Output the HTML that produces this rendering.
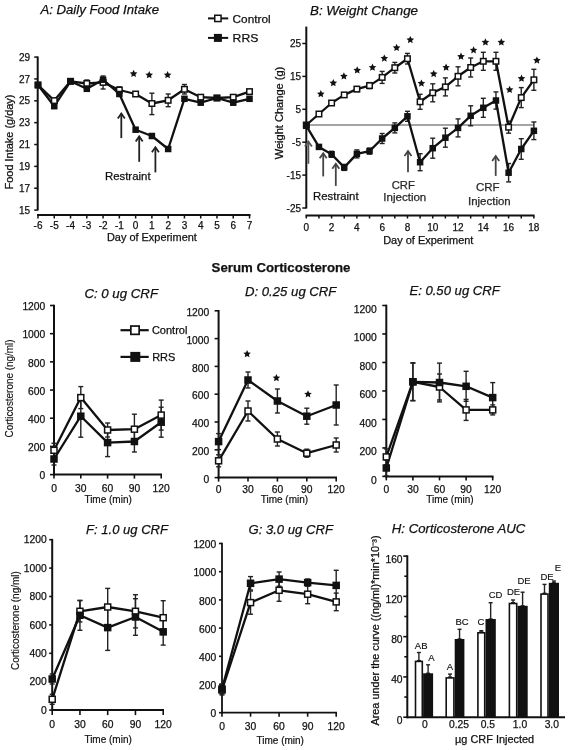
<!DOCTYPE html>
<html><head><meta charset="utf-8"><style>
html,body{margin:0;padding:0;background:#fff;}
svg{display:block;font-family:"Liberation Sans",sans-serif;filter:blur(0.35px);}
text{stroke:#111;stroke-width:0.25px;}
</style></head><body>
<svg width="569" height="750" viewBox="0 0 569 750">
<rect width="569" height="750" fill="#fff"/>
<text x="40.4" y="14.4" font-size="13" font-style="italic" textLength="118.6" lengthAdjust="spacingAndGlyphs" fill="#111">A: Daily Food Intake</text>
<line x1="208" y1="18.4" x2="228.2" y2="18.4" stroke="#111" stroke-width="2"/>
<rect x="214.75" y="15.25" width="6.3" height="6.3" fill="#fff" stroke="#111" stroke-width="1.5"/>
<text x="232.6" y="22.5" font-size="10.8" textLength="38" lengthAdjust="spacingAndGlyphs" fill="#111">Control</text>
<line x1="208" y1="37.9" x2="228.2" y2="37.9" stroke="#111" stroke-width="2"/>
<rect x="213.9" y="33.9" width="8" height="8" fill="#111"/>
<text x="232.6" y="41.5" font-size="10.8" textLength="25.7" lengthAdjust="spacingAndGlyphs" fill="#111">RRS</text>
<line x1="37.7" y1="56.5" x2="37.7" y2="210.5" stroke="#111" stroke-width="2"/>
<line x1="34.2" y1="210.1" x2="37.7" y2="210.1" stroke="#111" stroke-width="1.5"/>
<text x="30" y="213.7" font-size="10" text-anchor="end" fill="#111">15</text>
<line x1="34.2" y1="188.24" x2="37.7" y2="188.24" stroke="#111" stroke-width="1.5"/>
<text x="30" y="191.84" font-size="10" text-anchor="end" fill="#111">17</text>
<line x1="34.2" y1="166.38" x2="37.7" y2="166.38" stroke="#111" stroke-width="1.5"/>
<text x="30" y="169.98" font-size="10" text-anchor="end" fill="#111">19</text>
<line x1="34.2" y1="144.52" x2="37.7" y2="144.52" stroke="#111" stroke-width="1.5"/>
<text x="30" y="148.12" font-size="10" text-anchor="end" fill="#111">21</text>
<line x1="34.2" y1="122.66" x2="37.7" y2="122.66" stroke="#111" stroke-width="1.5"/>
<text x="30" y="126.26" font-size="10" text-anchor="end" fill="#111">23</text>
<line x1="34.2" y1="100.8" x2="37.7" y2="100.8" stroke="#111" stroke-width="1.5"/>
<text x="30" y="104.4" font-size="10" text-anchor="end" fill="#111">25</text>
<line x1="34.2" y1="78.94" x2="37.7" y2="78.94" stroke="#111" stroke-width="1.5"/>
<text x="30" y="82.54" font-size="10" text-anchor="end" fill="#111">27</text>
<line x1="34.2" y1="57.08" x2="37.7" y2="57.08" stroke="#111" stroke-width="1.5"/>
<text x="30" y="60.68" font-size="10" text-anchor="end" fill="#111">29</text>
<text x="13" y="142" font-size="10" text-anchor="middle" textLength="95" lengthAdjust="spacingAndGlyphs" transform="rotate(-90 13 142)" fill="#111">Food Intake (g/day)</text>
<line x1="37" y1="215" x2="250.5" y2="215" stroke="#111" stroke-width="2"/>
<line x1="38" y1="215" x2="38" y2="218.5" stroke="#111" stroke-width="1.5"/>
<text x="38" y="229.2" font-size="10" text-anchor="middle" fill="#111">-6</text>
<line x1="54.27" y1="215" x2="54.27" y2="218.5" stroke="#111" stroke-width="1.5"/>
<text x="54.27" y="229.2" font-size="10" text-anchor="middle" fill="#111">-5</text>
<line x1="70.54" y1="215" x2="70.54" y2="218.5" stroke="#111" stroke-width="1.5"/>
<text x="70.54" y="229.2" font-size="10" text-anchor="middle" fill="#111">-4</text>
<line x1="86.81" y1="215" x2="86.81" y2="218.5" stroke="#111" stroke-width="1.5"/>
<text x="86.81" y="229.2" font-size="10" text-anchor="middle" fill="#111">-3</text>
<line x1="103.08" y1="215" x2="103.08" y2="218.5" stroke="#111" stroke-width="1.5"/>
<text x="103.08" y="229.2" font-size="10" text-anchor="middle" fill="#111">-2</text>
<line x1="119.35" y1="215" x2="119.35" y2="218.5" stroke="#111" stroke-width="1.5"/>
<text x="119.35" y="229.2" font-size="10" text-anchor="middle" fill="#111">-1</text>
<line x1="135.62" y1="215" x2="135.62" y2="218.5" stroke="#111" stroke-width="1.5"/>
<text x="135.62" y="229.2" font-size="10" text-anchor="middle" fill="#111">0</text>
<line x1="151.89" y1="215" x2="151.89" y2="218.5" stroke="#111" stroke-width="1.5"/>
<text x="151.89" y="229.2" font-size="10" text-anchor="middle" fill="#111">1</text>
<line x1="168.16" y1="215" x2="168.16" y2="218.5" stroke="#111" stroke-width="1.5"/>
<text x="168.16" y="229.2" font-size="10" text-anchor="middle" fill="#111">2</text>
<line x1="184.43" y1="215" x2="184.43" y2="218.5" stroke="#111" stroke-width="1.5"/>
<text x="184.43" y="229.2" font-size="10" text-anchor="middle" fill="#111">3</text>
<line x1="200.7" y1="215" x2="200.7" y2="218.5" stroke="#111" stroke-width="1.5"/>
<text x="200.7" y="229.2" font-size="10" text-anchor="middle" fill="#111">4</text>
<line x1="216.97" y1="215" x2="216.97" y2="218.5" stroke="#111" stroke-width="1.5"/>
<text x="216.97" y="229.2" font-size="10" text-anchor="middle" fill="#111">5</text>
<line x1="233.24" y1="215" x2="233.24" y2="218.5" stroke="#111" stroke-width="1.5"/>
<text x="233.24" y="229.2" font-size="10" text-anchor="middle" fill="#111">6</text>
<line x1="249.51" y1="215" x2="249.51" y2="218.5" stroke="#111" stroke-width="1.5"/>
<text x="249.51" y="229.2" font-size="10" text-anchor="middle" fill="#111">7</text>
<text x="151.9" y="241.3" font-size="10.5" text-anchor="middle" textLength="89.9" lengthAdjust="spacingAndGlyphs" fill="#111">Day of Experiment</text>
<line x1="86.81" y1="80" x2="86.81" y2="87" stroke="#222" stroke-width="1.4"/>
<line x1="84.31" y1="80" x2="89.31" y2="80" stroke="#222" stroke-width="1.4"/>
<line x1="84.31" y1="87" x2="89.31" y2="87" stroke="#222" stroke-width="1.4"/>
<line x1="103.08" y1="76" x2="103.08" y2="89" stroke="#222" stroke-width="1.4"/>
<line x1="100.58" y1="76" x2="105.58" y2="76" stroke="#222" stroke-width="1.4"/>
<line x1="100.58" y1="89" x2="105.58" y2="89" stroke="#222" stroke-width="1.4"/>
<line x1="119.35" y1="86.9" x2="119.35" y2="93" stroke="#222" stroke-width="1.4"/>
<line x1="116.85" y1="86.9" x2="121.85" y2="86.9" stroke="#222" stroke-width="1.4"/>
<line x1="116.85" y1="93" x2="121.85" y2="93" stroke="#222" stroke-width="1.4"/>
<line x1="151.89" y1="93.2" x2="151.89" y2="114.6" stroke="#222" stroke-width="1.4"/>
<line x1="149.39" y1="93.2" x2="154.39" y2="93.2" stroke="#222" stroke-width="1.4"/>
<line x1="149.39" y1="114.6" x2="154.39" y2="114.6" stroke="#222" stroke-width="1.4"/>
<line x1="168.16" y1="94" x2="168.16" y2="106.7" stroke="#222" stroke-width="1.4"/>
<line x1="165.66" y1="94" x2="170.66" y2="94" stroke="#222" stroke-width="1.4"/>
<line x1="165.66" y1="106.7" x2="170.66" y2="106.7" stroke="#222" stroke-width="1.4"/>
<line x1="184.43" y1="84.5" x2="184.43" y2="94" stroke="#222" stroke-width="1.4"/>
<line x1="181.93" y1="84.5" x2="186.93" y2="84.5" stroke="#222" stroke-width="1.4"/>
<line x1="181.93" y1="94" x2="186.93" y2="94" stroke="#222" stroke-width="1.4"/>
<polyline points="38,85 54.27,100.6 70.54,81.3 86.81,83.5 103.08,82.4 119.35,90 135.62,94 151.89,103.5 168.16,100.3 184.43,89.3 200.7,97.2 216.97,98 233.24,97.2 249.51,91.6" fill="none" stroke="#111" stroke-width="2.3" stroke-linejoin="round"/>
<polyline points="38,85 54.27,106.2 70.54,81.3 86.81,88.8 103.08,79.7 119.35,94 135.62,129.7 151.89,136 168.16,149 184.43,98.8 200.7,102.7 216.97,98 233.24,102.7 249.51,98.8" fill="none" stroke="#111" stroke-width="2.3" stroke-linejoin="round"/>
<rect x="35.25" y="82.25" width="5.5" height="5.5" fill="#fff" stroke="#111" stroke-width="1.5"/>
<rect x="51.52" y="97.85" width="5.5" height="5.5" fill="#fff" stroke="#111" stroke-width="1.5"/>
<rect x="67.79" y="78.55" width="5.5" height="5.5" fill="#fff" stroke="#111" stroke-width="1.5"/>
<rect x="84.06" y="80.75" width="5.5" height="5.5" fill="#fff" stroke="#111" stroke-width="1.5"/>
<rect x="100.33" y="79.65" width="5.5" height="5.5" fill="#fff" stroke="#111" stroke-width="1.5"/>
<rect x="116.6" y="87.25" width="5.5" height="5.5" fill="#fff" stroke="#111" stroke-width="1.5"/>
<rect x="132.87" y="91.25" width="5.5" height="5.5" fill="#fff" stroke="#111" stroke-width="1.5"/>
<rect x="149.14" y="100.75" width="5.5" height="5.5" fill="#fff" stroke="#111" stroke-width="1.5"/>
<rect x="165.41" y="97.55" width="5.5" height="5.5" fill="#fff" stroke="#111" stroke-width="1.5"/>
<rect x="181.68" y="86.55" width="5.5" height="5.5" fill="#fff" stroke="#111" stroke-width="1.5"/>
<rect x="197.95" y="94.45" width="5.5" height="5.5" fill="#fff" stroke="#111" stroke-width="1.5"/>
<rect x="214.22" y="95.25" width="5.5" height="5.5" fill="#fff" stroke="#111" stroke-width="1.5"/>
<rect x="230.49" y="94.45" width="5.5" height="5.5" fill="#fff" stroke="#111" stroke-width="1.5"/>
<rect x="246.76" y="88.85" width="5.5" height="5.5" fill="#fff" stroke="#111" stroke-width="1.5"/>
<rect x="34.75" y="81.75" width="6.5" height="6.5" fill="#111"/>
<rect x="51.02" y="102.95" width="6.5" height="6.5" fill="#111"/>
<rect x="67.29" y="78.05" width="6.5" height="6.5" fill="#111"/>
<rect x="83.56" y="85.55" width="6.5" height="6.5" fill="#111"/>
<rect x="99.83" y="76.45" width="6.5" height="6.5" fill="#111"/>
<rect x="116.1" y="90.75" width="6.5" height="6.5" fill="#111"/>
<rect x="132.37" y="126.45" width="6.5" height="6.5" fill="#111"/>
<rect x="148.64" y="132.75" width="6.5" height="6.5" fill="#111"/>
<rect x="164.91" y="145.75" width="6.5" height="6.5" fill="#111"/>
<rect x="181.18" y="95.55" width="6.5" height="6.5" fill="#111"/>
<rect x="197.45" y="99.45" width="6.5" height="6.5" fill="#111"/>
<rect x="213.72" y="94.75" width="6.5" height="6.5" fill="#111"/>
<rect x="229.99" y="99.45" width="6.5" height="6.5" fill="#111"/>
<rect x="246.26" y="95.55" width="6.5" height="6.5" fill="#111"/>
<polygon points="133.6,69.8 134.73,72.25 137.4,72.56 135.43,74.39 135.95,77.04 133.6,75.72 131.25,77.04 131.77,74.39 129.8,72.56 132.47,72.25" fill="#111"/>
<polygon points="149.2,71.1 150.33,73.55 153,73.86 151.03,75.69 151.55,78.34 149.2,77.02 146.85,78.34 147.37,75.69 145.4,73.86 148.07,73.55" fill="#111"/>
<polygon points="167.6,71.1 168.73,73.55 171.4,73.86 169.43,75.69 169.95,78.34 167.6,77.02 165.25,78.34 165.77,75.69 163.8,73.86 166.47,73.55" fill="#111"/>
<line x1="121.3" y1="113.5" x2="121.3" y2="138.1" stroke="#222" stroke-width="1.8"/>
<polyline points="117.8,118.5 121.3,113.5 124.8,118.5" fill="none" stroke="#222" stroke-width="1.8"/>
<line x1="139.2" y1="136.4" x2="139.2" y2="161.8" stroke="#222" stroke-width="1.8"/>
<polyline points="135.7,141.4 139.2,136.4 142.7,141.4" fill="none" stroke="#222" stroke-width="1.8"/>
<line x1="155.4" y1="147.3" x2="155.4" y2="172.4" stroke="#222" stroke-width="1.8"/>
<polyline points="151.9,152.3 155.4,147.3 158.9,152.3" fill="none" stroke="#222" stroke-width="1.8"/>
<text x="104.9" y="180.3" font-size="11.5" textLength="45.7" lengthAdjust="spacingAndGlyphs" fill="#111">Restraint</text>
<text x="310" y="14.6" font-size="13" font-style="italic" textLength="108" lengthAdjust="spacingAndGlyphs" fill="#111">B: Weight Change</text>
<line x1="306.3" y1="26.6" x2="306.3" y2="208.5" stroke="#111" stroke-width="2"/>
<line x1="302.3" y1="43.5" x2="306.3" y2="43.5" stroke="#111" stroke-width="1.5"/>
<text x="301" y="47.1" font-size="10" text-anchor="end" fill="#111">25</text>
<line x1="302.3" y1="76.4" x2="306.3" y2="76.4" stroke="#111" stroke-width="1.5"/>
<text x="301" y="80" font-size="10" text-anchor="end" fill="#111">15</text>
<line x1="302.3" y1="109.3" x2="306.3" y2="109.3" stroke="#111" stroke-width="1.5"/>
<text x="301" y="112.9" font-size="10" text-anchor="end" fill="#111">5</text>
<line x1="302.3" y1="142.2" x2="306.3" y2="142.2" stroke="#111" stroke-width="1.5"/>
<text x="301" y="145.8" font-size="10" text-anchor="end" fill="#111">-5</text>
<line x1="302.3" y1="175.1" x2="306.3" y2="175.1" stroke="#111" stroke-width="1.5"/>
<text x="301" y="178.7" font-size="10" text-anchor="end" fill="#111">-15</text>
<line x1="302.3" y1="208" x2="306.3" y2="208" stroke="#111" stroke-width="1.5"/>
<text x="301" y="211.6" font-size="10" text-anchor="end" fill="#111">-25</text>
<text x="283" y="113" font-size="10" text-anchor="middle" textLength="92.6" lengthAdjust="spacingAndGlyphs" transform="rotate(-90 283 113)" fill="#111">Weight Change (g)</text>
<line x1="305.5" y1="215.5" x2="534.5" y2="215.5" stroke="#111" stroke-width="2"/>
<line x1="306.3" y1="215.5" x2="306.3" y2="218.5" stroke="#111" stroke-width="1.5"/>
<text x="306.3" y="230.7" font-size="10" text-anchor="middle" fill="#111">0</text>
<line x1="318.94" y1="215.5" x2="318.94" y2="218.5" stroke="#111" stroke-width="1.5"/>
<line x1="331.59" y1="215.5" x2="331.59" y2="218.5" stroke="#111" stroke-width="1.5"/>
<text x="331.59" y="230.7" font-size="10" text-anchor="middle" fill="#111">2</text>
<line x1="344.23" y1="215.5" x2="344.23" y2="218.5" stroke="#111" stroke-width="1.5"/>
<line x1="356.88" y1="215.5" x2="356.88" y2="218.5" stroke="#111" stroke-width="1.5"/>
<text x="356.88" y="230.7" font-size="10" text-anchor="middle" fill="#111">4</text>
<line x1="369.52" y1="215.5" x2="369.52" y2="218.5" stroke="#111" stroke-width="1.5"/>
<line x1="382.16" y1="215.5" x2="382.16" y2="218.5" stroke="#111" stroke-width="1.5"/>
<text x="382.16" y="230.7" font-size="10" text-anchor="middle" fill="#111">6</text>
<line x1="394.81" y1="215.5" x2="394.81" y2="218.5" stroke="#111" stroke-width="1.5"/>
<line x1="407.45" y1="215.5" x2="407.45" y2="218.5" stroke="#111" stroke-width="1.5"/>
<text x="407.45" y="230.7" font-size="10" text-anchor="middle" fill="#111">8</text>
<line x1="420.1" y1="215.5" x2="420.1" y2="218.5" stroke="#111" stroke-width="1.5"/>
<line x1="432.74" y1="215.5" x2="432.74" y2="218.5" stroke="#111" stroke-width="1.5"/>
<text x="432.74" y="230.7" font-size="10" text-anchor="middle" fill="#111">10</text>
<line x1="445.38" y1="215.5" x2="445.38" y2="218.5" stroke="#111" stroke-width="1.5"/>
<line x1="458.03" y1="215.5" x2="458.03" y2="218.5" stroke="#111" stroke-width="1.5"/>
<text x="458.03" y="230.7" font-size="10" text-anchor="middle" fill="#111">12</text>
<line x1="470.67" y1="215.5" x2="470.67" y2="218.5" stroke="#111" stroke-width="1.5"/>
<line x1="483.32" y1="215.5" x2="483.32" y2="218.5" stroke="#111" stroke-width="1.5"/>
<text x="483.32" y="230.7" font-size="10" text-anchor="middle" fill="#111">14</text>
<line x1="495.96" y1="215.5" x2="495.96" y2="218.5" stroke="#111" stroke-width="1.5"/>
<line x1="508.6" y1="215.5" x2="508.6" y2="218.5" stroke="#111" stroke-width="1.5"/>
<text x="508.6" y="230.7" font-size="10" text-anchor="middle" fill="#111">16</text>
<line x1="521.25" y1="215.5" x2="521.25" y2="218.5" stroke="#111" stroke-width="1.5"/>
<line x1="533.89" y1="215.5" x2="533.89" y2="218.5" stroke="#111" stroke-width="1.5"/>
<text x="533.89" y="230.7" font-size="10" text-anchor="middle" fill="#111">18</text>
<text x="428.3" y="244" font-size="10.5" text-anchor="middle" textLength="90.2" lengthAdjust="spacingAndGlyphs" fill="#111">Day of Experiment</text>
<line x1="306.3" y1="125" x2="534" y2="125" stroke="#a4a4a4" stroke-width="2"/>
<line x1="382.16" y1="71.4" x2="382.16" y2="83.4" stroke="#222" stroke-width="1.4"/>
<line x1="379.66" y1="71.4" x2="384.66" y2="71.4" stroke="#222" stroke-width="1.4"/>
<line x1="379.66" y1="83.4" x2="384.66" y2="83.4" stroke="#222" stroke-width="1.4"/>
<line x1="394.81" y1="62.4" x2="394.81" y2="73" stroke="#222" stroke-width="1.4"/>
<line x1="392.31" y1="62.4" x2="397.31" y2="62.4" stroke="#222" stroke-width="1.4"/>
<line x1="392.31" y1="73" x2="397.31" y2="73" stroke="#222" stroke-width="1.4"/>
<line x1="407.45" y1="53.4" x2="407.45" y2="64" stroke="#222" stroke-width="1.4"/>
<line x1="404.95" y1="53.4" x2="409.95" y2="53.4" stroke="#222" stroke-width="1.4"/>
<line x1="404.95" y1="64" x2="409.95" y2="64" stroke="#222" stroke-width="1.4"/>
<line x1="420.1" y1="94.3" x2="420.1" y2="109.3" stroke="#222" stroke-width="1.4"/>
<line x1="417.6" y1="94.3" x2="422.6" y2="94.3" stroke="#222" stroke-width="1.4"/>
<line x1="417.6" y1="109.3" x2="422.6" y2="109.3" stroke="#222" stroke-width="1.4"/>
<line x1="432.74" y1="83.8" x2="432.74" y2="101.8" stroke="#222" stroke-width="1.4"/>
<line x1="430.24" y1="83.8" x2="435.24" y2="83.8" stroke="#222" stroke-width="1.4"/>
<line x1="430.24" y1="101.8" x2="435.24" y2="101.8" stroke="#222" stroke-width="1.4"/>
<line x1="445.38" y1="77.9" x2="445.38" y2="95.9" stroke="#222" stroke-width="1.4"/>
<line x1="442.88" y1="77.9" x2="447.88" y2="77.9" stroke="#222" stroke-width="1.4"/>
<line x1="442.88" y1="95.9" x2="447.88" y2="95.9" stroke="#222" stroke-width="1.4"/>
<line x1="458.03" y1="66.8" x2="458.03" y2="85.8" stroke="#222" stroke-width="1.4"/>
<line x1="455.53" y1="66.8" x2="460.53" y2="66.8" stroke="#222" stroke-width="1.4"/>
<line x1="455.53" y1="85.8" x2="460.53" y2="85.8" stroke="#222" stroke-width="1.4"/>
<line x1="470.67" y1="58" x2="470.67" y2="77" stroke="#222" stroke-width="1.4"/>
<line x1="468.17" y1="58" x2="473.17" y2="58" stroke="#222" stroke-width="1.4"/>
<line x1="468.17" y1="77" x2="473.17" y2="77" stroke="#222" stroke-width="1.4"/>
<line x1="483.32" y1="52.3" x2="483.32" y2="70.3" stroke="#222" stroke-width="1.4"/>
<line x1="480.82" y1="52.3" x2="485.82" y2="52.3" stroke="#222" stroke-width="1.4"/>
<line x1="480.82" y1="70.3" x2="485.82" y2="70.3" stroke="#222" stroke-width="1.4"/>
<line x1="495.96" y1="52.3" x2="495.96" y2="70.3" stroke="#222" stroke-width="1.4"/>
<line x1="493.46" y1="52.3" x2="498.46" y2="52.3" stroke="#222" stroke-width="1.4"/>
<line x1="493.46" y1="70.3" x2="498.46" y2="70.3" stroke="#222" stroke-width="1.4"/>
<line x1="508.6" y1="121.2" x2="508.6" y2="133.2" stroke="#222" stroke-width="1.4"/>
<line x1="506.1" y1="121.2" x2="511.1" y2="121.2" stroke="#222" stroke-width="1.4"/>
<line x1="506.1" y1="133.2" x2="511.1" y2="133.2" stroke="#222" stroke-width="1.4"/>
<line x1="521.25" y1="87.6" x2="521.25" y2="107.6" stroke="#222" stroke-width="1.4"/>
<line x1="518.75" y1="87.6" x2="523.75" y2="87.6" stroke="#222" stroke-width="1.4"/>
<line x1="518.75" y1="107.6" x2="523.75" y2="107.6" stroke="#222" stroke-width="1.4"/>
<line x1="533.89" y1="69.3" x2="533.89" y2="90.3" stroke="#222" stroke-width="1.4"/>
<line x1="531.39" y1="69.3" x2="536.39" y2="69.3" stroke="#222" stroke-width="1.4"/>
<line x1="531.39" y1="90.3" x2="536.39" y2="90.3" stroke="#222" stroke-width="1.4"/>
<line x1="369.52" y1="82.6" x2="369.52" y2="88.6" stroke="#222" stroke-width="1.4"/>
<line x1="367.02" y1="82.6" x2="372.02" y2="82.6" stroke="#222" stroke-width="1.4"/>
<line x1="367.02" y1="88.6" x2="372.02" y2="88.6" stroke="#222" stroke-width="1.4"/>
<line x1="356.88" y1="86.6" x2="356.88" y2="91.6" stroke="#222" stroke-width="1.4"/>
<line x1="354.38" y1="86.6" x2="359.38" y2="86.6" stroke="#222" stroke-width="1.4"/>
<line x1="354.38" y1="91.6" x2="359.38" y2="91.6" stroke="#222" stroke-width="1.4"/>
<line x1="356.88" y1="149.9" x2="356.88" y2="157.9" stroke="#222" stroke-width="1.4"/>
<line x1="354.38" y1="149.9" x2="359.38" y2="149.9" stroke="#222" stroke-width="1.4"/>
<line x1="354.38" y1="157.9" x2="359.38" y2="157.9" stroke="#222" stroke-width="1.4"/>
<line x1="369.52" y1="148.1" x2="369.52" y2="154.1" stroke="#222" stroke-width="1.4"/>
<line x1="367.02" y1="148.1" x2="372.02" y2="148.1" stroke="#222" stroke-width="1.4"/>
<line x1="367.02" y1="154.1" x2="372.02" y2="154.1" stroke="#222" stroke-width="1.4"/>
<line x1="382.16" y1="133.5" x2="382.16" y2="143.5" stroke="#222" stroke-width="1.4"/>
<line x1="379.66" y1="133.5" x2="384.66" y2="133.5" stroke="#222" stroke-width="1.4"/>
<line x1="379.66" y1="143.5" x2="384.66" y2="143.5" stroke="#222" stroke-width="1.4"/>
<line x1="394.81" y1="122.9" x2="394.81" y2="132.9" stroke="#222" stroke-width="1.4"/>
<line x1="392.31" y1="122.9" x2="397.31" y2="122.9" stroke="#222" stroke-width="1.4"/>
<line x1="392.31" y1="132.9" x2="397.31" y2="132.9" stroke="#222" stroke-width="1.4"/>
<line x1="407.45" y1="111.3" x2="407.45" y2="121.3" stroke="#222" stroke-width="1.4"/>
<line x1="404.95" y1="111.3" x2="409.95" y2="111.3" stroke="#222" stroke-width="1.4"/>
<line x1="404.95" y1="121.3" x2="409.95" y2="121.3" stroke="#222" stroke-width="1.4"/>
<line x1="420.1" y1="153.7" x2="420.1" y2="170.7" stroke="#222" stroke-width="1.4"/>
<line x1="417.6" y1="153.7" x2="422.6" y2="153.7" stroke="#222" stroke-width="1.4"/>
<line x1="417.6" y1="170.7" x2="422.6" y2="170.7" stroke="#222" stroke-width="1.4"/>
<line x1="432.74" y1="138.2" x2="432.74" y2="158.2" stroke="#222" stroke-width="1.4"/>
<line x1="430.24" y1="138.2" x2="435.24" y2="138.2" stroke="#222" stroke-width="1.4"/>
<line x1="430.24" y1="158.2" x2="435.24" y2="158.2" stroke="#222" stroke-width="1.4"/>
<line x1="445.38" y1="128.2" x2="445.38" y2="147.2" stroke="#222" stroke-width="1.4"/>
<line x1="442.88" y1="128.2" x2="447.88" y2="128.2" stroke="#222" stroke-width="1.4"/>
<line x1="442.88" y1="147.2" x2="447.88" y2="147.2" stroke="#222" stroke-width="1.4"/>
<line x1="458.03" y1="118.9" x2="458.03" y2="136.9" stroke="#222" stroke-width="1.4"/>
<line x1="455.53" y1="118.9" x2="460.53" y2="118.9" stroke="#222" stroke-width="1.4"/>
<line x1="455.53" y1="136.9" x2="460.53" y2="136.9" stroke="#222" stroke-width="1.4"/>
<line x1="470.67" y1="105.8" x2="470.67" y2="125.8" stroke="#222" stroke-width="1.4"/>
<line x1="468.17" y1="105.8" x2="473.17" y2="105.8" stroke="#222" stroke-width="1.4"/>
<line x1="468.17" y1="125.8" x2="473.17" y2="125.8" stroke="#222" stroke-width="1.4"/>
<line x1="483.32" y1="98.3" x2="483.32" y2="117.3" stroke="#222" stroke-width="1.4"/>
<line x1="480.82" y1="98.3" x2="485.82" y2="98.3" stroke="#222" stroke-width="1.4"/>
<line x1="480.82" y1="117.3" x2="485.82" y2="117.3" stroke="#222" stroke-width="1.4"/>
<line x1="495.96" y1="91.9" x2="495.96" y2="109.1" stroke="#222" stroke-width="1.4"/>
<line x1="493.46" y1="91.9" x2="498.46" y2="91.9" stroke="#222" stroke-width="1.4"/>
<line x1="493.46" y1="109.1" x2="498.46" y2="109.1" stroke="#222" stroke-width="1.4"/>
<line x1="508.6" y1="163.5" x2="508.6" y2="181.9" stroke="#222" stroke-width="1.4"/>
<line x1="506.1" y1="163.5" x2="511.1" y2="163.5" stroke="#222" stroke-width="1.4"/>
<line x1="506.1" y1="181.9" x2="511.1" y2="181.9" stroke="#222" stroke-width="1.4"/>
<line x1="521.25" y1="138.7" x2="521.25" y2="159.3" stroke="#222" stroke-width="1.4"/>
<line x1="518.75" y1="138.7" x2="523.75" y2="138.7" stroke="#222" stroke-width="1.4"/>
<line x1="518.75" y1="159.3" x2="523.75" y2="159.3" stroke="#222" stroke-width="1.4"/>
<line x1="533.89" y1="122" x2="533.89" y2="139.6" stroke="#222" stroke-width="1.4"/>
<line x1="531.39" y1="122" x2="536.39" y2="122" stroke="#222" stroke-width="1.4"/>
<line x1="531.39" y1="139.6" x2="536.39" y2="139.6" stroke="#222" stroke-width="1.4"/>
<line x1="331.59" y1="151.3" x2="331.59" y2="157.3" stroke="#222" stroke-width="1.4"/>
<line x1="329.09" y1="151.3" x2="334.09" y2="151.3" stroke="#222" stroke-width="1.4"/>
<line x1="329.09" y1="157.3" x2="334.09" y2="157.3" stroke="#222" stroke-width="1.4"/>
<line x1="344.23" y1="164.4" x2="344.23" y2="170.4" stroke="#222" stroke-width="1.4"/>
<line x1="341.73" y1="164.4" x2="346.73" y2="164.4" stroke="#222" stroke-width="1.4"/>
<line x1="341.73" y1="170.4" x2="346.73" y2="170.4" stroke="#222" stroke-width="1.4"/>
<line x1="308.4" y1="141.6" x2="308.4" y2="163.8" stroke="#555" stroke-width="1.8"/>
<polyline points="304.9,146.6 308.4,141.6 311.9,146.6" fill="none" stroke="#555" stroke-width="1.8"/>
<line x1="323.2" y1="153.2" x2="323.2" y2="176.4" stroke="#444" stroke-width="1.8"/>
<polyline points="319.7,158.2 323.2,153.2 326.7,158.2" fill="none" stroke="#444" stroke-width="1.8"/>
<line x1="335.8" y1="163.8" x2="335.8" y2="185.9" stroke="#444" stroke-width="1.8"/>
<polyline points="332.3,168.8 335.8,163.8 339.3,168.8" fill="none" stroke="#444" stroke-width="1.8"/>
<line x1="408" y1="151.1" x2="408" y2="172.2" stroke="#444" stroke-width="1.8"/>
<polyline points="404.5,156.1 408,151.1 411.5,156.1" fill="none" stroke="#444" stroke-width="1.8"/>
<line x1="495.7" y1="156.1" x2="495.7" y2="175.9" stroke="#444" stroke-width="1.8"/>
<polyline points="492.2,161.1 495.7,156.1 499.2,161.1" fill="none" stroke="#444" stroke-width="1.8"/>
<polyline points="306.3,125 318.94,114 331.59,103 344.23,94.9 356.88,89.1 369.52,85.6 382.16,77.4 394.81,67.7 407.45,58.7 420.1,101.8 432.74,92.8 445.38,86.9 458.03,76.3 470.67,67.5 483.32,61.3 495.96,61.3 508.6,127.2 521.25,97.6 533.89,79.8" fill="none" stroke="#111" stroke-width="2.3" stroke-linejoin="round"/>
<polyline points="306.3,125.8 318.94,146.9 331.59,154.3 344.23,167.4 356.88,153.9 369.52,151.1 382.16,138.5 394.81,127.9 407.45,116.3 420.1,162.2 432.74,148.2 445.38,137.7 458.03,127.9 470.67,115.8 483.32,107.8 495.96,100.5 508.6,172.7 521.25,149 533.89,130.8" fill="none" stroke="#111" stroke-width="2.3" stroke-linejoin="round"/>
<rect x="303.55" y="122.25" width="5.5" height="5.5" fill="#fff" stroke="#111" stroke-width="1.5"/>
<rect x="316.19" y="111.25" width="5.5" height="5.5" fill="#fff" stroke="#111" stroke-width="1.5"/>
<rect x="328.84" y="100.25" width="5.5" height="5.5" fill="#fff" stroke="#111" stroke-width="1.5"/>
<rect x="341.48" y="92.15" width="5.5" height="5.5" fill="#fff" stroke="#111" stroke-width="1.5"/>
<rect x="354.13" y="86.35" width="5.5" height="5.5" fill="#fff" stroke="#111" stroke-width="1.5"/>
<rect x="366.77" y="82.85" width="5.5" height="5.5" fill="#fff" stroke="#111" stroke-width="1.5"/>
<rect x="379.41" y="74.65" width="5.5" height="5.5" fill="#fff" stroke="#111" stroke-width="1.5"/>
<rect x="392.06" y="64.95" width="5.5" height="5.5" fill="#fff" stroke="#111" stroke-width="1.5"/>
<rect x="404.7" y="55.95" width="5.5" height="5.5" fill="#fff" stroke="#111" stroke-width="1.5"/>
<rect x="417.35" y="99.05" width="5.5" height="5.5" fill="#fff" stroke="#111" stroke-width="1.5"/>
<rect x="429.99" y="90.05" width="5.5" height="5.5" fill="#fff" stroke="#111" stroke-width="1.5"/>
<rect x="442.63" y="84.15" width="5.5" height="5.5" fill="#fff" stroke="#111" stroke-width="1.5"/>
<rect x="455.28" y="73.55" width="5.5" height="5.5" fill="#fff" stroke="#111" stroke-width="1.5"/>
<rect x="467.92" y="64.75" width="5.5" height="5.5" fill="#fff" stroke="#111" stroke-width="1.5"/>
<rect x="480.57" y="58.55" width="5.5" height="5.5" fill="#fff" stroke="#111" stroke-width="1.5"/>
<rect x="493.21" y="58.55" width="5.5" height="5.5" fill="#fff" stroke="#111" stroke-width="1.5"/>
<rect x="505.85" y="124.45" width="5.5" height="5.5" fill="#fff" stroke="#111" stroke-width="1.5"/>
<rect x="518.5" y="94.85" width="5.5" height="5.5" fill="#fff" stroke="#111" stroke-width="1.5"/>
<rect x="531.14" y="77.05" width="5.5" height="5.5" fill="#fff" stroke="#111" stroke-width="1.5"/>
<rect x="303.05" y="122.55" width="6.5" height="6.5" fill="#111"/>
<rect x="315.69" y="143.65" width="6.5" height="6.5" fill="#111"/>
<rect x="328.34" y="151.05" width="6.5" height="6.5" fill="#111"/>
<rect x="340.98" y="164.15" width="6.5" height="6.5" fill="#111"/>
<rect x="353.63" y="150.65" width="6.5" height="6.5" fill="#111"/>
<rect x="366.27" y="147.85" width="6.5" height="6.5" fill="#111"/>
<rect x="378.91" y="135.25" width="6.5" height="6.5" fill="#111"/>
<rect x="391.56" y="124.65" width="6.5" height="6.5" fill="#111"/>
<rect x="404.2" y="113.05" width="6.5" height="6.5" fill="#111"/>
<rect x="416.85" y="158.95" width="6.5" height="6.5" fill="#111"/>
<rect x="429.49" y="144.95" width="6.5" height="6.5" fill="#111"/>
<rect x="442.13" y="134.45" width="6.5" height="6.5" fill="#111"/>
<rect x="454.78" y="124.65" width="6.5" height="6.5" fill="#111"/>
<rect x="467.42" y="112.55" width="6.5" height="6.5" fill="#111"/>
<rect x="480.07" y="104.55" width="6.5" height="6.5" fill="#111"/>
<rect x="492.71" y="97.25" width="6.5" height="6.5" fill="#111"/>
<rect x="505.35" y="169.45" width="6.5" height="6.5" fill="#111"/>
<rect x="518" y="145.75" width="6.5" height="6.5" fill="#111"/>
<rect x="530.64" y="127.55" width="6.5" height="6.5" fill="#111"/>
<polygon points="320.8,90.1 321.93,92.55 324.6,92.86 322.63,94.69 323.15,97.34 320.8,96.02 318.45,97.34 318.97,94.69 317,92.86 319.67,92.55" fill="#111"/>
<polygon points="333.3,79.1 334.43,81.55 337.1,81.86 335.13,83.69 335.65,86.34 333.3,85.02 330.95,86.34 331.47,83.69 329.5,81.86 332.17,81.55" fill="#111"/>
<polygon points="343.9,72.3 345.03,74.75 347.7,75.06 345.73,76.89 346.25,79.54 343.9,78.22 341.55,79.54 342.07,76.89 340.1,75.06 342.77,74.75" fill="#111"/>
<polygon points="357.2,66.3 358.33,68.75 361,69.06 359.03,70.89 359.55,73.54 357.2,72.22 354.85,73.54 355.37,70.89 353.4,69.06 356.07,68.75" fill="#111"/>
<polygon points="372.5,63.5 373.63,65.95 376.3,66.26 374.33,68.09 374.85,70.74 372.5,69.42 370.15,70.74 370.67,68.09 368.7,66.26 371.37,65.95" fill="#111"/>
<polygon points="384.3,54.4 385.43,56.85 388.1,57.16 386.13,58.99 386.65,61.64 384.3,60.32 381.95,61.64 382.47,58.99 380.5,57.16 383.17,56.85" fill="#111"/>
<polygon points="396.6,43.8 397.73,46.25 400.4,46.56 398.43,48.39 398.95,51.04 396.6,49.72 394.25,51.04 394.77,48.39 392.8,46.56 395.47,46.25" fill="#111"/>
<polygon points="410.3,35.9 411.43,38.35 414.1,38.66 412.13,40.49 412.65,43.14 410.3,41.82 407.95,43.14 408.47,40.49 406.5,38.66 409.17,38.35" fill="#111"/>
<polygon points="421.4,79.4 422.53,81.85 425.2,82.16 423.23,83.99 423.75,86.64 421.4,85.32 419.05,86.64 419.57,83.99 417.6,82.16 420.27,81.85" fill="#111"/>
<polygon points="433.7,69.9 434.83,72.35 437.5,72.66 435.53,74.49 436.05,77.14 433.7,75.82 431.35,77.14 431.87,74.49 429.9,72.66 432.57,72.35" fill="#111"/>
<polygon points="446.1,63.5 447.23,65.95 449.9,66.26 447.93,68.09 448.45,70.74 446.1,69.42 443.75,70.74 444.27,68.09 442.3,66.26 444.97,65.95" fill="#111"/>
<polygon points="461,52.6 462.13,55.05 464.8,55.36 462.83,57.19 463.35,59.84 461,58.52 458.65,59.84 459.17,57.19 457.2,55.36 459.87,55.05" fill="#111"/>
<polygon points="473.6,46.2 474.73,48.65 477.4,48.96 475.43,50.79 475.95,53.44 473.6,52.12 471.25,53.44 471.77,50.79 469.8,48.96 472.47,48.65" fill="#111"/>
<polygon points="485.4,38.3 486.53,40.75 489.2,41.06 487.23,42.89 487.75,45.54 485.4,44.22 483.05,45.54 483.57,42.89 481.6,41.06 484.27,40.75" fill="#111"/>
<polygon points="501.3,38.3 502.43,40.75 505.1,41.06 503.13,42.89 503.65,45.54 501.3,44.22 498.95,45.54 499.47,42.89 497.5,41.06 500.17,40.75" fill="#111"/>
<polygon points="509.6,85.8 510.73,88.25 513.4,88.56 511.43,90.39 511.95,93.04 509.6,91.72 507.25,93.04 507.77,90.39 505.8,88.56 508.47,88.25" fill="#111"/>
<polygon points="521.5,74.6 522.63,77.05 525.3,77.36 523.33,79.19 523.85,81.84 521.5,80.52 519.15,81.84 519.67,79.19 517.7,77.36 520.37,77.05" fill="#111"/>
<polygon points="536.9,56.4 538.03,58.85 540.7,59.16 538.73,60.99 539.25,63.64 536.9,62.32 534.55,63.64 535.07,60.99 533.1,59.16 535.77,58.85" fill="#111"/>
<text x="313.1" y="199.6" font-size="11.5" textLength="45.5" lengthAdjust="spacingAndGlyphs" fill="#111">Restraint</text>
<text x="403.3" y="189.1" font-size="11.5" text-anchor="middle" textLength="23.2" lengthAdjust="spacingAndGlyphs" fill="#333">CRF</text>
<text x="383.3" y="200.7" font-size="11.5" textLength="43" lengthAdjust="spacingAndGlyphs" fill="#333">Injection</text>
<text x="487.75" y="191.2" font-size="11.5" text-anchor="middle" textLength="23.7" lengthAdjust="spacingAndGlyphs" fill="#333">CRF</text>
<text x="468" y="204.9" font-size="11.5" textLength="42.7" lengthAdjust="spacingAndGlyphs" fill="#333">Injection</text>
<text x="211.6" y="271.8" font-size="13" font-weight="bold" textLength="138.9" lengthAdjust="spacingAndGlyphs" fill="#111">Serum Corticosterone</text>
<text x="84.4" y="297.5" font-size="13" font-style="italic" textLength="73.6" lengthAdjust="spacingAndGlyphs" fill="#111">C: 0 ug CRF</text>
<line x1="54" y1="304.7" x2="54" y2="475.6" stroke="#111" stroke-width="2"/>
<line x1="50" y1="474.6" x2="54" y2="474.6" stroke="#111" stroke-width="1.6"/>
<text x="45.3" y="479.3" font-size="10.3" text-anchor="end" fill="#111">0</text>
<line x1="50" y1="446.42" x2="54" y2="446.42" stroke="#111" stroke-width="1.6"/>
<text x="45.3" y="451.12" font-size="10.3" text-anchor="end" fill="#111">200</text>
<line x1="50" y1="418.23" x2="54" y2="418.23" stroke="#111" stroke-width="1.6"/>
<text x="45.3" y="422.93" font-size="10.3" text-anchor="end" fill="#111">400</text>
<line x1="50" y1="390.05" x2="54" y2="390.05" stroke="#111" stroke-width="1.6"/>
<text x="45.3" y="394.75" font-size="10.3" text-anchor="end" fill="#111">600</text>
<line x1="50" y1="361.87" x2="54" y2="361.87" stroke="#111" stroke-width="1.6"/>
<text x="45.3" y="366.57" font-size="10.3" text-anchor="end" fill="#111">800</text>
<line x1="50" y1="333.68" x2="54" y2="333.68" stroke="#111" stroke-width="1.6"/>
<text x="45.3" y="338.38" font-size="10.3" text-anchor="end" fill="#111">1000</text>
<line x1="50" y1="305.5" x2="54" y2="305.5" stroke="#111" stroke-width="1.6"/>
<text x="45.3" y="310.2" font-size="10.3" text-anchor="end" fill="#111">1200</text>
<line x1="53" y1="474.6" x2="162" y2="474.6" stroke="#111" stroke-width="2"/>
<line x1="54" y1="474.6" x2="54" y2="478.6" stroke="#111" stroke-width="1.6"/>
<text x="54" y="491.6" font-size="10.3" text-anchor="middle" fill="#111">0</text>
<line x1="80.8" y1="474.6" x2="80.8" y2="478.6" stroke="#111" stroke-width="1.6"/>
<text x="80.8" y="491.6" font-size="10.3" text-anchor="middle" fill="#111">30</text>
<line x1="107.6" y1="474.6" x2="107.6" y2="478.6" stroke="#111" stroke-width="1.6"/>
<text x="107.6" y="491.6" font-size="10.3" text-anchor="middle" fill="#111">60</text>
<line x1="134.4" y1="474.6" x2="134.4" y2="478.6" stroke="#111" stroke-width="1.6"/>
<text x="134.4" y="491.6" font-size="10.3" text-anchor="middle" fill="#111">90</text>
<line x1="161.2" y1="474.6" x2="161.2" y2="478.6" stroke="#111" stroke-width="1.6"/>
<text x="161.2" y="491.6" font-size="10.3" text-anchor="middle" fill="#111">120</text>
<text x="108.1" y="503.4" font-size="10.3" text-anchor="middle" textLength="47.4" lengthAdjust="spacingAndGlyphs" style="stroke-width:0.2px" fill="#111">Time (min)</text>
<line x1="54" y1="443.3" x2="54" y2="457.3" stroke="#222" stroke-width="1.4"/>
<line x1="51.5" y1="443.3" x2="56.5" y2="443.3" stroke="#222" stroke-width="1.4"/>
<line x1="51.5" y1="457.3" x2="56.5" y2="457.3" stroke="#222" stroke-width="1.4"/>
<line x1="80.8" y1="386.6" x2="80.8" y2="408.6" stroke="#222" stroke-width="1.4"/>
<line x1="78.3" y1="386.6" x2="83.3" y2="386.6" stroke="#222" stroke-width="1.4"/>
<line x1="78.3" y1="408.6" x2="83.3" y2="408.6" stroke="#222" stroke-width="1.4"/>
<line x1="107.6" y1="423" x2="107.6" y2="437" stroke="#222" stroke-width="1.4"/>
<line x1="105.1" y1="423" x2="110.1" y2="423" stroke="#222" stroke-width="1.4"/>
<line x1="105.1" y1="437" x2="110.1" y2="437" stroke="#222" stroke-width="1.4"/>
<line x1="134.4" y1="414.2" x2="134.4" y2="444.2" stroke="#222" stroke-width="1.4"/>
<line x1="131.9" y1="414.2" x2="136.9" y2="414.2" stroke="#222" stroke-width="1.4"/>
<line x1="131.9" y1="444.2" x2="136.9" y2="444.2" stroke="#222" stroke-width="1.4"/>
<line x1="161.2" y1="400.1" x2="161.2" y2="430.1" stroke="#222" stroke-width="1.4"/>
<line x1="158.7" y1="400.1" x2="163.7" y2="400.1" stroke="#222" stroke-width="1.4"/>
<line x1="158.7" y1="430.1" x2="163.7" y2="430.1" stroke="#222" stroke-width="1.4"/>
<line x1="54" y1="453" x2="54" y2="465" stroke="#222" stroke-width="1.4"/>
<line x1="51.5" y1="453" x2="56.5" y2="453" stroke="#222" stroke-width="1.4"/>
<line x1="51.5" y1="465" x2="56.5" y2="465" stroke="#222" stroke-width="1.4"/>
<line x1="80.8" y1="395.2" x2="80.8" y2="437.2" stroke="#222" stroke-width="1.4"/>
<line x1="78.3" y1="395.2" x2="83.3" y2="395.2" stroke="#222" stroke-width="1.4"/>
<line x1="78.3" y1="437.2" x2="83.3" y2="437.2" stroke="#222" stroke-width="1.4"/>
<line x1="107.6" y1="428.6" x2="107.6" y2="456.6" stroke="#222" stroke-width="1.4"/>
<line x1="105.1" y1="428.6" x2="110.1" y2="428.6" stroke="#222" stroke-width="1.4"/>
<line x1="105.1" y1="456.6" x2="110.1" y2="456.6" stroke="#222" stroke-width="1.4"/>
<line x1="134.4" y1="431" x2="134.4" y2="452" stroke="#222" stroke-width="1.4"/>
<line x1="131.9" y1="431" x2="136.9" y2="431" stroke="#222" stroke-width="1.4"/>
<line x1="131.9" y1="452" x2="136.9" y2="452" stroke="#222" stroke-width="1.4"/>
<line x1="161.2" y1="407.2" x2="161.2" y2="437.2" stroke="#222" stroke-width="1.4"/>
<line x1="158.7" y1="407.2" x2="163.7" y2="407.2" stroke="#222" stroke-width="1.4"/>
<line x1="158.7" y1="437.2" x2="163.7" y2="437.2" stroke="#222" stroke-width="1.4"/>
<polyline points="54,450.3 80.8,397.6 107.6,430 134.4,429.2 161.2,415.1" fill="none" stroke="#111" stroke-width="2.3" stroke-linejoin="round"/>
<polyline points="54,459 80.8,416.2 107.6,442.6 134.4,441.5 161.2,422.2" fill="none" stroke="#111" stroke-width="2.3" stroke-linejoin="round"/>
<rect x="51" y="447.3" width="6" height="6" fill="#fff" stroke="#111" stroke-width="1.5"/>
<rect x="77.8" y="394.6" width="6" height="6" fill="#fff" stroke="#111" stroke-width="1.5"/>
<rect x="104.6" y="427" width="6" height="6" fill="#fff" stroke="#111" stroke-width="1.5"/>
<rect x="131.4" y="426.2" width="6" height="6" fill="#fff" stroke="#111" stroke-width="1.5"/>
<rect x="158.2" y="412.1" width="6" height="6" fill="#fff" stroke="#111" stroke-width="1.5"/>
<rect x="50.25" y="455.25" width="7.5" height="7.5" fill="#111"/>
<rect x="77.05" y="412.45" width="7.5" height="7.5" fill="#111"/>
<rect x="103.85" y="438.85" width="7.5" height="7.5" fill="#111"/>
<rect x="130.65" y="437.75" width="7.5" height="7.5" fill="#111"/>
<rect x="157.45" y="418.45" width="7.5" height="7.5" fill="#111"/>
<text x="12.5" y="388.5" font-size="10" text-anchor="middle" textLength="98" lengthAdjust="spacingAndGlyphs" transform="rotate(-90 12.5 388.5)" style="stroke-width:0.15px" fill="#111">Corticosterone (ng/ml)</text>
<line x1="120.5" y1="330.2" x2="148.7" y2="330.2" stroke="#111" stroke-width="2.2"/>
<rect x="130.85" y="326.05" width="8.3" height="8.3" fill="#fff" stroke="#111" stroke-width="1.7"/>
<text x="151.9" y="333.6" font-size="10.5" textLength="35.5" lengthAdjust="spacingAndGlyphs" fill="#111">Control</text>
<line x1="120.5" y1="356.9" x2="148.7" y2="356.9" stroke="#111" stroke-width="2.2"/>
<rect x="130.3" y="351.9" width="10" height="10" fill="#111"/>
<text x="152.2" y="360.6" font-size="10.5" textLength="23.2" lengthAdjust="spacingAndGlyphs" fill="#111">RRS</text>
<text x="245" y="295.7" font-size="13" font-style="italic" textLength="91.4" lengthAdjust="spacingAndGlyphs" fill="#111">D: 0.25 ug CRF</text>
<line x1="218.6" y1="310" x2="218.6" y2="478.6" stroke="#111" stroke-width="2"/>
<line x1="214.6" y1="477.6" x2="218.6" y2="477.6" stroke="#111" stroke-width="1.6"/>
<text x="209.3" y="482.8" font-size="10.3" text-anchor="end" fill="#111">0</text>
<line x1="214.6" y1="449.8" x2="218.6" y2="449.8" stroke="#111" stroke-width="1.6"/>
<text x="209.3" y="455" font-size="10.3" text-anchor="end" fill="#111">200</text>
<line x1="214.6" y1="422" x2="218.6" y2="422" stroke="#111" stroke-width="1.6"/>
<text x="209.3" y="427.2" font-size="10.3" text-anchor="end" fill="#111">400</text>
<line x1="214.6" y1="394.2" x2="218.6" y2="394.2" stroke="#111" stroke-width="1.6"/>
<text x="209.3" y="399.4" font-size="10.3" text-anchor="end" fill="#111">600</text>
<line x1="214.6" y1="366.4" x2="218.6" y2="366.4" stroke="#111" stroke-width="1.6"/>
<text x="209.3" y="371.6" font-size="10.3" text-anchor="end" fill="#111">800</text>
<line x1="214.6" y1="338.6" x2="218.6" y2="338.6" stroke="#111" stroke-width="1.6"/>
<text x="209.3" y="343.8" font-size="10.3" text-anchor="end" fill="#111">1000</text>
<line x1="214.6" y1="310.8" x2="218.6" y2="310.8" stroke="#111" stroke-width="1.6"/>
<text x="209.3" y="316" font-size="10.3" text-anchor="end" fill="#111">1200</text>
<line x1="217.6" y1="477.6" x2="337" y2="477.6" stroke="#111" stroke-width="2"/>
<line x1="218.6" y1="477.6" x2="218.6" y2="481.6" stroke="#111" stroke-width="1.6"/>
<text x="218.6" y="492.6" font-size="10.3" text-anchor="middle" fill="#111">0</text>
<line x1="248" y1="477.6" x2="248" y2="481.6" stroke="#111" stroke-width="1.6"/>
<text x="248" y="492.6" font-size="10.3" text-anchor="middle" fill="#111">30</text>
<line x1="277.4" y1="477.6" x2="277.4" y2="481.6" stroke="#111" stroke-width="1.6"/>
<text x="277.4" y="492.6" font-size="10.3" text-anchor="middle" fill="#111">60</text>
<line x1="306.8" y1="477.6" x2="306.8" y2="481.6" stroke="#111" stroke-width="1.6"/>
<text x="306.8" y="492.6" font-size="10.3" text-anchor="middle" fill="#111">90</text>
<line x1="336.2" y1="477.6" x2="336.2" y2="481.6" stroke="#111" stroke-width="1.6"/>
<text x="336.2" y="492.6" font-size="10.3" text-anchor="middle" fill="#111">120</text>
<text x="284.4" y="503" font-size="10.3" text-anchor="middle" textLength="47.4" lengthAdjust="spacingAndGlyphs" style="stroke-width:0.2px" fill="#111">Time (min)</text>
<line x1="218.6" y1="454.8" x2="218.6" y2="466.8" stroke="#222" stroke-width="1.4"/>
<line x1="216.1" y1="454.8" x2="221.1" y2="454.8" stroke="#222" stroke-width="1.4"/>
<line x1="216.1" y1="466.8" x2="221.1" y2="466.8" stroke="#222" stroke-width="1.4"/>
<line x1="248" y1="401" x2="248" y2="421" stroke="#222" stroke-width="1.4"/>
<line x1="245.5" y1="401" x2="250.5" y2="401" stroke="#222" stroke-width="1.4"/>
<line x1="245.5" y1="421" x2="250.5" y2="421" stroke="#222" stroke-width="1.4"/>
<line x1="277.4" y1="432" x2="277.4" y2="446" stroke="#222" stroke-width="1.4"/>
<line x1="274.9" y1="432" x2="279.9" y2="432" stroke="#222" stroke-width="1.4"/>
<line x1="274.9" y1="446" x2="279.9" y2="446" stroke="#222" stroke-width="1.4"/>
<line x1="306.8" y1="449.2" x2="306.8" y2="457.2" stroke="#222" stroke-width="1.4"/>
<line x1="304.3" y1="449.2" x2="309.3" y2="449.2" stroke="#222" stroke-width="1.4"/>
<line x1="304.3" y1="457.2" x2="309.3" y2="457.2" stroke="#222" stroke-width="1.4"/>
<line x1="336.2" y1="438" x2="336.2" y2="452" stroke="#222" stroke-width="1.4"/>
<line x1="333.7" y1="438" x2="338.7" y2="438" stroke="#222" stroke-width="1.4"/>
<line x1="333.7" y1="452" x2="338.7" y2="452" stroke="#222" stroke-width="1.4"/>
<line x1="218.6" y1="433.6" x2="218.6" y2="449.6" stroke="#222" stroke-width="1.4"/>
<line x1="216.1" y1="433.6" x2="221.1" y2="433.6" stroke="#222" stroke-width="1.4"/>
<line x1="216.1" y1="449.6" x2="221.1" y2="449.6" stroke="#222" stroke-width="1.4"/>
<line x1="248" y1="372" x2="248" y2="388" stroke="#222" stroke-width="1.4"/>
<line x1="245.5" y1="372" x2="250.5" y2="372" stroke="#222" stroke-width="1.4"/>
<line x1="245.5" y1="388" x2="250.5" y2="388" stroke="#222" stroke-width="1.4"/>
<line x1="277.4" y1="389" x2="277.4" y2="413" stroke="#222" stroke-width="1.4"/>
<line x1="274.9" y1="389" x2="279.9" y2="389" stroke="#222" stroke-width="1.4"/>
<line x1="274.9" y1="413" x2="279.9" y2="413" stroke="#222" stroke-width="1.4"/>
<line x1="306.8" y1="408.2" x2="306.8" y2="424.2" stroke="#222" stroke-width="1.4"/>
<line x1="304.3" y1="408.2" x2="309.3" y2="408.2" stroke="#222" stroke-width="1.4"/>
<line x1="304.3" y1="424.2" x2="309.3" y2="424.2" stroke="#222" stroke-width="1.4"/>
<line x1="336.2" y1="385" x2="336.2" y2="425" stroke="#222" stroke-width="1.4"/>
<line x1="333.7" y1="385" x2="338.7" y2="385" stroke="#222" stroke-width="1.4"/>
<line x1="333.7" y1="425" x2="338.7" y2="425" stroke="#222" stroke-width="1.4"/>
<polyline points="218.6,460.8 248,411 277.4,439 306.8,453.2 336.2,445" fill="none" stroke="#111" stroke-width="2.3" stroke-linejoin="round"/>
<polyline points="218.6,441.6 248,380 277.4,401 306.8,416.2 336.2,405" fill="none" stroke="#111" stroke-width="2.3" stroke-linejoin="round"/>
<rect x="215.6" y="457.8" width="6" height="6" fill="#fff" stroke="#111" stroke-width="1.5"/>
<rect x="245" y="408" width="6" height="6" fill="#fff" stroke="#111" stroke-width="1.5"/>
<rect x="274.4" y="436" width="6" height="6" fill="#fff" stroke="#111" stroke-width="1.5"/>
<rect x="303.8" y="450.2" width="6" height="6" fill="#fff" stroke="#111" stroke-width="1.5"/>
<rect x="333.2" y="442" width="6" height="6" fill="#fff" stroke="#111" stroke-width="1.5"/>
<rect x="214.85" y="437.85" width="7.5" height="7.5" fill="#111"/>
<rect x="244.25" y="376.25" width="7.5" height="7.5" fill="#111"/>
<rect x="273.65" y="397.25" width="7.5" height="7.5" fill="#111"/>
<rect x="303.05" y="412.45" width="7.5" height="7.5" fill="#111"/>
<rect x="332.45" y="401.25" width="7.5" height="7.5" fill="#111"/>
<polygon points="247.1,350 248.23,352.45 250.9,352.76 248.93,354.59 249.45,357.24 247.1,355.92 244.75,357.24 245.27,354.59 243.3,352.76 245.97,352.45" fill="#111"/>
<polygon points="276.4,374 277.53,376.45 280.2,376.76 278.23,378.59 278.75,381.24 276.4,379.92 274.05,381.24 274.57,378.59 272.6,376.76 275.27,376.45" fill="#111"/>
<polygon points="308,390.2 309.13,392.65 311.8,392.96 309.83,394.79 310.35,397.44 308,396.12 305.65,397.44 306.17,394.79 304.2,392.96 306.87,392.65" fill="#111"/>
<text x="409.4" y="295.3" font-size="13" font-style="italic" textLength="90.4" lengthAdjust="spacingAndGlyphs" fill="#111">E: 0.50 ug CRF</text>
<line x1="386.3" y1="304.7" x2="386.3" y2="477.4" stroke="#111" stroke-width="2"/>
<line x1="382.3" y1="476.4" x2="386.3" y2="476.4" stroke="#111" stroke-width="1.6"/>
<text x="376.7" y="483.6" font-size="10.3" text-anchor="end" fill="#111">0</text>
<line x1="382.3" y1="447.92" x2="386.3" y2="447.92" stroke="#111" stroke-width="1.6"/>
<text x="376.7" y="455.12" font-size="10.3" text-anchor="end" fill="#111">200</text>
<line x1="382.3" y1="419.43" x2="386.3" y2="419.43" stroke="#111" stroke-width="1.6"/>
<text x="376.7" y="426.63" font-size="10.3" text-anchor="end" fill="#111">400</text>
<line x1="382.3" y1="390.95" x2="386.3" y2="390.95" stroke="#111" stroke-width="1.6"/>
<text x="376.7" y="398.15" font-size="10.3" text-anchor="end" fill="#111">600</text>
<line x1="382.3" y1="362.47" x2="386.3" y2="362.47" stroke="#111" stroke-width="1.6"/>
<text x="376.7" y="369.67" font-size="10.3" text-anchor="end" fill="#111">800</text>
<line x1="382.3" y1="333.98" x2="386.3" y2="333.98" stroke="#111" stroke-width="1.6"/>
<text x="376.7" y="341.18" font-size="10.3" text-anchor="end" fill="#111">1000</text>
<line x1="382.3" y1="305.5" x2="386.3" y2="305.5" stroke="#111" stroke-width="1.6"/>
<text x="376.7" y="312.7" font-size="10.3" text-anchor="end" fill="#111">1200</text>
<line x1="385.3" y1="476.4" x2="493.5" y2="476.4" stroke="#111" stroke-width="2"/>
<line x1="386.3" y1="476.4" x2="386.3" y2="480.4" stroke="#111" stroke-width="1.6"/>
<text x="386.3" y="492.5" font-size="10.3" text-anchor="middle" fill="#111">0</text>
<line x1="412.9" y1="476.4" x2="412.9" y2="480.4" stroke="#111" stroke-width="1.6"/>
<text x="412.9" y="492.5" font-size="10.3" text-anchor="middle" fill="#111">30</text>
<line x1="439.5" y1="476.4" x2="439.5" y2="480.4" stroke="#111" stroke-width="1.6"/>
<text x="439.5" y="492.5" font-size="10.3" text-anchor="middle" fill="#111">60</text>
<line x1="466.1" y1="476.4" x2="466.1" y2="480.4" stroke="#111" stroke-width="1.6"/>
<text x="466.1" y="492.5" font-size="10.3" text-anchor="middle" fill="#111">90</text>
<line x1="492.7" y1="476.4" x2="492.7" y2="480.4" stroke="#111" stroke-width="1.6"/>
<text x="492.7" y="492.5" font-size="10.3" text-anchor="middle" fill="#111">120</text>
<text x="449.9" y="503.2" font-size="10.3" text-anchor="middle" textLength="47.4" lengthAdjust="spacingAndGlyphs" style="stroke-width:0.2px" fill="#111">Time (min)</text>
<line x1="386.3" y1="448.9" x2="386.3" y2="464.9" stroke="#222" stroke-width="1.4"/>
<line x1="383.8" y1="448.9" x2="388.8" y2="448.9" stroke="#222" stroke-width="1.4"/>
<line x1="383.8" y1="464.9" x2="388.8" y2="464.9" stroke="#222" stroke-width="1.4"/>
<line x1="412.9" y1="362.8" x2="412.9" y2="400.8" stroke="#222" stroke-width="1.4"/>
<line x1="410.4" y1="362.8" x2="415.4" y2="362.8" stroke="#222" stroke-width="1.4"/>
<line x1="410.4" y1="400.8" x2="415.4" y2="400.8" stroke="#222" stroke-width="1.4"/>
<line x1="439.5" y1="374" x2="439.5" y2="400" stroke="#222" stroke-width="1.4"/>
<line x1="437" y1="374" x2="442" y2="374" stroke="#222" stroke-width="1.4"/>
<line x1="437" y1="400" x2="442" y2="400" stroke="#222" stroke-width="1.4"/>
<line x1="466.1" y1="399.4" x2="466.1" y2="420.4" stroke="#222" stroke-width="1.4"/>
<line x1="463.6" y1="399.4" x2="468.6" y2="399.4" stroke="#222" stroke-width="1.4"/>
<line x1="463.6" y1="420.4" x2="468.6" y2="420.4" stroke="#222" stroke-width="1.4"/>
<line x1="492.7" y1="404.9" x2="492.7" y2="414.9" stroke="#222" stroke-width="1.4"/>
<line x1="490.2" y1="404.9" x2="495.2" y2="404.9" stroke="#222" stroke-width="1.4"/>
<line x1="490.2" y1="414.9" x2="495.2" y2="414.9" stroke="#222" stroke-width="1.4"/>
<line x1="386.3" y1="460" x2="386.3" y2="476" stroke="#222" stroke-width="1.4"/>
<line x1="383.8" y1="460" x2="388.8" y2="460" stroke="#222" stroke-width="1.4"/>
<line x1="383.8" y1="476" x2="388.8" y2="476" stroke="#222" stroke-width="1.4"/>
<line x1="412.9" y1="363.1" x2="412.9" y2="400.5" stroke="#222" stroke-width="1.4"/>
<line x1="410.4" y1="363.1" x2="415.4" y2="363.1" stroke="#222" stroke-width="1.4"/>
<line x1="410.4" y1="400.5" x2="415.4" y2="400.5" stroke="#222" stroke-width="1.4"/>
<line x1="439.5" y1="363.1" x2="439.5" y2="401.9" stroke="#222" stroke-width="1.4"/>
<line x1="437" y1="363.1" x2="442" y2="363.1" stroke="#222" stroke-width="1.4"/>
<line x1="437" y1="401.9" x2="442" y2="401.9" stroke="#222" stroke-width="1.4"/>
<line x1="466.1" y1="371.3" x2="466.1" y2="401.3" stroke="#222" stroke-width="1.4"/>
<line x1="463.6" y1="371.3" x2="468.6" y2="371.3" stroke="#222" stroke-width="1.4"/>
<line x1="463.6" y1="401.3" x2="468.6" y2="401.3" stroke="#222" stroke-width="1.4"/>
<line x1="492.7" y1="382.6" x2="492.7" y2="412.6" stroke="#222" stroke-width="1.4"/>
<line x1="490.2" y1="382.6" x2="495.2" y2="382.6" stroke="#222" stroke-width="1.4"/>
<line x1="490.2" y1="412.6" x2="495.2" y2="412.6" stroke="#222" stroke-width="1.4"/>
<polyline points="386.3,456.9 412.9,381.8 439.5,387 466.1,409.9 492.7,409.9" fill="none" stroke="#111" stroke-width="2.3" stroke-linejoin="round"/>
<polyline points="386.3,468 412.9,381.8 439.5,382.5 466.1,386.3 492.7,397.6" fill="none" stroke="#111" stroke-width="2.3" stroke-linejoin="round"/>
<rect x="383.3" y="453.9" width="6" height="6" fill="#fff" stroke="#111" stroke-width="1.5"/>
<rect x="409.9" y="378.8" width="6" height="6" fill="#fff" stroke="#111" stroke-width="1.5"/>
<rect x="436.5" y="384" width="6" height="6" fill="#fff" stroke="#111" stroke-width="1.5"/>
<rect x="463.1" y="406.9" width="6" height="6" fill="#fff" stroke="#111" stroke-width="1.5"/>
<rect x="489.7" y="406.9" width="6" height="6" fill="#fff" stroke="#111" stroke-width="1.5"/>
<rect x="382.55" y="464.25" width="7.5" height="7.5" fill="#111"/>
<rect x="409.15" y="378.05" width="7.5" height="7.5" fill="#111"/>
<rect x="435.75" y="378.75" width="7.5" height="7.5" fill="#111"/>
<rect x="462.35" y="382.55" width="7.5" height="7.5" fill="#111"/>
<rect x="488.95" y="393.85" width="7.5" height="7.5" fill="#111"/>
<text x="86.1" y="534" font-size="13" font-style="italic" textLength="81.9" lengthAdjust="spacingAndGlyphs" fill="#111">F: 1.0 ug CRF</text>
<line x1="52.2" y1="538.9" x2="52.2" y2="711.1" stroke="#111" stroke-width="2"/>
<line x1="49.2" y1="710.1" x2="52.2" y2="710.1" stroke="#111" stroke-width="1.6"/>
<text x="46.7" y="713.8" font-size="10.3" text-anchor="end" fill="#111">0</text>
<line x1="49.2" y1="681.7" x2="52.2" y2="681.7" stroke="#111" stroke-width="1.6"/>
<text x="46.7" y="685.4" font-size="10.3" text-anchor="end" fill="#111">200</text>
<line x1="49.2" y1="653.3" x2="52.2" y2="653.3" stroke="#111" stroke-width="1.6"/>
<text x="46.7" y="657" font-size="10.3" text-anchor="end" fill="#111">400</text>
<line x1="49.2" y1="624.9" x2="52.2" y2="624.9" stroke="#111" stroke-width="1.6"/>
<text x="46.7" y="628.6" font-size="10.3" text-anchor="end" fill="#111">600</text>
<line x1="49.2" y1="596.5" x2="52.2" y2="596.5" stroke="#111" stroke-width="1.6"/>
<text x="46.7" y="600.2" font-size="10.3" text-anchor="end" fill="#111">800</text>
<line x1="49.2" y1="568.1" x2="52.2" y2="568.1" stroke="#111" stroke-width="1.6"/>
<text x="46.7" y="571.8" font-size="10.3" text-anchor="end" fill="#111">1000</text>
<line x1="49.2" y1="539.7" x2="52.2" y2="539.7" stroke="#111" stroke-width="1.6"/>
<text x="46.7" y="543.4" font-size="10.3" text-anchor="end" fill="#111">1200</text>
<line x1="51.2" y1="710.1" x2="164" y2="710.1" stroke="#111" stroke-width="2"/>
<line x1="52.2" y1="710.1" x2="52.2" y2="715.1" stroke="#111" stroke-width="1.6"/>
<text x="52.2" y="728.4" font-size="10.3" text-anchor="middle" fill="#111">0</text>
<line x1="79.95" y1="710.1" x2="79.95" y2="715.1" stroke="#111" stroke-width="1.6"/>
<text x="79.95" y="728.4" font-size="10.3" text-anchor="middle" fill="#111">30</text>
<line x1="107.7" y1="710.1" x2="107.7" y2="715.1" stroke="#111" stroke-width="1.6"/>
<text x="107.7" y="728.4" font-size="10.3" text-anchor="middle" fill="#111">60</text>
<line x1="135.45" y1="710.1" x2="135.45" y2="715.1" stroke="#111" stroke-width="1.6"/>
<text x="135.45" y="728.4" font-size="10.3" text-anchor="middle" fill="#111">90</text>
<line x1="163.2" y1="710.1" x2="163.2" y2="715.1" stroke="#111" stroke-width="1.6"/>
<text x="163.2" y="728.4" font-size="10.3" text-anchor="middle" fill="#111">120</text>
<text x="108.1" y="742.9" font-size="10.3" text-anchor="middle" textLength="47.4" lengthAdjust="spacingAndGlyphs" style="stroke-width:0.2px" fill="#111">Time (min)</text>
<line x1="52.2" y1="694.3" x2="52.2" y2="704.3" stroke="#222" stroke-width="1.4"/>
<line x1="49.7" y1="694.3" x2="54.7" y2="694.3" stroke="#222" stroke-width="1.4"/>
<line x1="49.7" y1="704.3" x2="54.7" y2="704.3" stroke="#222" stroke-width="1.4"/>
<line x1="79.95" y1="600.7" x2="79.95" y2="621.9" stroke="#222" stroke-width="1.4"/>
<line x1="77.45" y1="600.7" x2="82.45" y2="600.7" stroke="#222" stroke-width="1.4"/>
<line x1="77.45" y1="621.9" x2="82.45" y2="621.9" stroke="#222" stroke-width="1.4"/>
<line x1="107.7" y1="588.4" x2="107.7" y2="625.6" stroke="#222" stroke-width="1.4"/>
<line x1="105.2" y1="588.4" x2="110.2" y2="588.4" stroke="#222" stroke-width="1.4"/>
<line x1="105.2" y1="625.6" x2="110.2" y2="625.6" stroke="#222" stroke-width="1.4"/>
<line x1="135.45" y1="594.7" x2="135.45" y2="627.9" stroke="#222" stroke-width="1.4"/>
<line x1="132.95" y1="594.7" x2="137.95" y2="594.7" stroke="#222" stroke-width="1.4"/>
<line x1="132.95" y1="627.9" x2="137.95" y2="627.9" stroke="#222" stroke-width="1.4"/>
<line x1="163.2" y1="600.7" x2="163.2" y2="634.7" stroke="#222" stroke-width="1.4"/>
<line x1="160.7" y1="600.7" x2="165.7" y2="600.7" stroke="#222" stroke-width="1.4"/>
<line x1="160.7" y1="634.7" x2="165.7" y2="634.7" stroke="#222" stroke-width="1.4"/>
<line x1="52.2" y1="674" x2="52.2" y2="684" stroke="#222" stroke-width="1.4"/>
<line x1="49.7" y1="674" x2="54.7" y2="674" stroke="#222" stroke-width="1.4"/>
<line x1="49.7" y1="684" x2="54.7" y2="684" stroke="#222" stroke-width="1.4"/>
<line x1="79.95" y1="600.3" x2="79.95" y2="630.3" stroke="#222" stroke-width="1.4"/>
<line x1="77.45" y1="600.3" x2="82.45" y2="600.3" stroke="#222" stroke-width="1.4"/>
<line x1="77.45" y1="630.3" x2="82.45" y2="630.3" stroke="#222" stroke-width="1.4"/>
<line x1="107.7" y1="604.8" x2="107.7" y2="650.4" stroke="#222" stroke-width="1.4"/>
<line x1="105.2" y1="604.8" x2="110.2" y2="604.8" stroke="#222" stroke-width="1.4"/>
<line x1="105.2" y1="650.4" x2="110.2" y2="650.4" stroke="#222" stroke-width="1.4"/>
<line x1="135.45" y1="598.7" x2="135.45" y2="635.3" stroke="#222" stroke-width="1.4"/>
<line x1="132.95" y1="598.7" x2="137.95" y2="598.7" stroke="#222" stroke-width="1.4"/>
<line x1="132.95" y1="635.3" x2="137.95" y2="635.3" stroke="#222" stroke-width="1.4"/>
<line x1="163.2" y1="618.5" x2="163.2" y2="645.1" stroke="#222" stroke-width="1.4"/>
<line x1="160.7" y1="618.5" x2="165.7" y2="618.5" stroke="#222" stroke-width="1.4"/>
<line x1="160.7" y1="645.1" x2="165.7" y2="645.1" stroke="#222" stroke-width="1.4"/>
<polyline points="52.2,699.3 79.95,611.3 107.7,607 135.45,611.3 163.2,617.7" fill="none" stroke="#111" stroke-width="2.3" stroke-linejoin="round"/>
<polyline points="52.2,679 79.95,615.3 107.7,627.6 135.45,617 163.2,631.8" fill="none" stroke="#111" stroke-width="2.3" stroke-linejoin="round"/>
<rect x="49.2" y="696.3" width="6" height="6" fill="#fff" stroke="#111" stroke-width="1.5"/>
<rect x="76.95" y="608.3" width="6" height="6" fill="#fff" stroke="#111" stroke-width="1.5"/>
<rect x="104.7" y="604" width="6" height="6" fill="#fff" stroke="#111" stroke-width="1.5"/>
<rect x="132.45" y="608.3" width="6" height="6" fill="#fff" stroke="#111" stroke-width="1.5"/>
<rect x="160.2" y="614.7" width="6" height="6" fill="#fff" stroke="#111" stroke-width="1.5"/>
<rect x="48.45" y="675.25" width="7.5" height="7.5" fill="#111"/>
<rect x="76.2" y="611.55" width="7.5" height="7.5" fill="#111"/>
<rect x="103.95" y="623.85" width="7.5" height="7.5" fill="#111"/>
<rect x="131.7" y="613.25" width="7.5" height="7.5" fill="#111"/>
<rect x="159.45" y="628.05" width="7.5" height="7.5" fill="#111"/>
<text x="18.8" y="620.6" font-size="10" text-anchor="middle" textLength="99" lengthAdjust="spacingAndGlyphs" transform="rotate(-90 18.8 620.6)" style="stroke-width:0.15px" fill="#111">Corticosterone (ng/ml)</text>
<text x="248.5" y="534.1" font-size="13" font-style="italic" textLength="84.4" lengthAdjust="spacingAndGlyphs" fill="#111">G: 3.0 ug CRF</text>
<line x1="222" y1="542.7" x2="222" y2="713.7" stroke="#111" stroke-width="1.8"/>
<line x1="219" y1="712.7" x2="222" y2="712.7" stroke="#111" stroke-width="1.6"/>
<text x="216.3" y="717.4" font-size="10.3" text-anchor="end" fill="#111">0</text>
<line x1="219" y1="684.5" x2="222" y2="684.5" stroke="#111" stroke-width="1.6"/>
<text x="216.3" y="689.2" font-size="10.3" text-anchor="end" fill="#111">200</text>
<line x1="219" y1="656.3" x2="222" y2="656.3" stroke="#111" stroke-width="1.6"/>
<text x="216.3" y="661" font-size="10.3" text-anchor="end" fill="#111">400</text>
<line x1="219" y1="628.1" x2="222" y2="628.1" stroke="#111" stroke-width="1.6"/>
<text x="216.3" y="632.8" font-size="10.3" text-anchor="end" fill="#111">600</text>
<line x1="219" y1="599.9" x2="222" y2="599.9" stroke="#111" stroke-width="1.6"/>
<text x="216.3" y="604.6" font-size="10.3" text-anchor="end" fill="#111">800</text>
<line x1="219" y1="571.7" x2="222" y2="571.7" stroke="#111" stroke-width="1.6"/>
<text x="216.3" y="576.4" font-size="10.3" text-anchor="end" fill="#111">1000</text>
<line x1="219" y1="543.5" x2="222" y2="543.5" stroke="#111" stroke-width="1.6"/>
<text x="216.3" y="548.2" font-size="10.3" text-anchor="end" fill="#111">1200</text>
<line x1="221" y1="712.7" x2="337" y2="712.7" stroke="#111" stroke-width="1.8"/>
<line x1="222" y1="712.7" x2="222" y2="716.7" stroke="#111" stroke-width="1.6"/>
<text x="222" y="730" font-size="10.3" text-anchor="middle" fill="#111">0</text>
<line x1="250.55" y1="712.7" x2="250.55" y2="716.7" stroke="#111" stroke-width="1.6"/>
<text x="250.55" y="730" font-size="10.3" text-anchor="middle" fill="#111">30</text>
<line x1="279.1" y1="712.7" x2="279.1" y2="716.7" stroke="#111" stroke-width="1.6"/>
<text x="279.1" y="730" font-size="10.3" text-anchor="middle" fill="#111">60</text>
<line x1="307.65" y1="712.7" x2="307.65" y2="716.7" stroke="#111" stroke-width="1.6"/>
<text x="307.65" y="730" font-size="10.3" text-anchor="middle" fill="#111">90</text>
<line x1="336.2" y1="712.7" x2="336.2" y2="716.7" stroke="#111" stroke-width="1.6"/>
<text x="336.2" y="730" font-size="10.3" text-anchor="middle" fill="#111">120</text>
<text x="280.2" y="743.6" font-size="10.3" text-anchor="middle" textLength="47.4" lengthAdjust="spacingAndGlyphs" style="stroke-width:0.2px" fill="#111">Time (min)</text>
<line x1="222" y1="685" x2="222" y2="695" stroke="#222" stroke-width="1.4"/>
<line x1="219.5" y1="685" x2="224.5" y2="685" stroke="#222" stroke-width="1.4"/>
<line x1="219.5" y1="695" x2="224.5" y2="695" stroke="#222" stroke-width="1.4"/>
<line x1="250.55" y1="591" x2="250.55" y2="614.2" stroke="#222" stroke-width="1.4"/>
<line x1="248.05" y1="591" x2="253.05" y2="591" stroke="#222" stroke-width="1.4"/>
<line x1="248.05" y1="614.2" x2="253.05" y2="614.2" stroke="#222" stroke-width="1.4"/>
<line x1="279.1" y1="579.3" x2="279.1" y2="601.3" stroke="#222" stroke-width="1.4"/>
<line x1="276.6" y1="579.3" x2="281.6" y2="579.3" stroke="#222" stroke-width="1.4"/>
<line x1="276.6" y1="601.3" x2="281.6" y2="601.3" stroke="#222" stroke-width="1.4"/>
<line x1="307.65" y1="584.7" x2="307.65" y2="603.7" stroke="#222" stroke-width="1.4"/>
<line x1="305.15" y1="584.7" x2="310.15" y2="584.7" stroke="#222" stroke-width="1.4"/>
<line x1="305.15" y1="603.7" x2="310.15" y2="603.7" stroke="#222" stroke-width="1.4"/>
<line x1="336.2" y1="593.1" x2="336.2" y2="610.7" stroke="#222" stroke-width="1.4"/>
<line x1="333.7" y1="593.1" x2="338.7" y2="593.1" stroke="#222" stroke-width="1.4"/>
<line x1="333.7" y1="610.7" x2="338.7" y2="610.7" stroke="#222" stroke-width="1.4"/>
<line x1="222" y1="684" x2="222" y2="694" stroke="#222" stroke-width="1.4"/>
<line x1="219.5" y1="684" x2="224.5" y2="684" stroke="#222" stroke-width="1.4"/>
<line x1="219.5" y1="694" x2="224.5" y2="694" stroke="#222" stroke-width="1.4"/>
<line x1="250.55" y1="576.6" x2="250.55" y2="590" stroke="#222" stroke-width="1.4"/>
<line x1="248.05" y1="576.6" x2="253.05" y2="576.6" stroke="#222" stroke-width="1.4"/>
<line x1="248.05" y1="590" x2="253.05" y2="590" stroke="#222" stroke-width="1.4"/>
<line x1="279.1" y1="572" x2="279.1" y2="586.2" stroke="#222" stroke-width="1.4"/>
<line x1="276.6" y1="572" x2="281.6" y2="572" stroke="#222" stroke-width="1.4"/>
<line x1="276.6" y1="586.2" x2="281.6" y2="586.2" stroke="#222" stroke-width="1.4"/>
<line x1="307.65" y1="579" x2="307.65" y2="586.2" stroke="#222" stroke-width="1.4"/>
<line x1="305.15" y1="579" x2="310.15" y2="579" stroke="#222" stroke-width="1.4"/>
<line x1="305.15" y1="586.2" x2="310.15" y2="586.2" stroke="#222" stroke-width="1.4"/>
<line x1="336.2" y1="570.3" x2="336.2" y2="600.5" stroke="#222" stroke-width="1.4"/>
<line x1="333.7" y1="570.3" x2="338.7" y2="570.3" stroke="#222" stroke-width="1.4"/>
<line x1="333.7" y1="600.5" x2="338.7" y2="600.5" stroke="#222" stroke-width="1.4"/>
<polyline points="222,690 250.55,602.6 279.1,590.3 307.65,594.2 336.2,601.9" fill="none" stroke="#111" stroke-width="2.3" stroke-linejoin="round"/>
<polyline points="222,689 250.55,583.3 279.1,579.1 307.65,582.6 336.2,585.4" fill="none" stroke="#111" stroke-width="2.3" stroke-linejoin="round"/>
<rect x="219" y="687" width="6" height="6" fill="#fff" stroke="#111" stroke-width="1.5"/>
<rect x="247.55" y="599.6" width="6" height="6" fill="#fff" stroke="#111" stroke-width="1.5"/>
<rect x="276.1" y="587.3" width="6" height="6" fill="#fff" stroke="#111" stroke-width="1.5"/>
<rect x="304.65" y="591.2" width="6" height="6" fill="#fff" stroke="#111" stroke-width="1.5"/>
<rect x="333.2" y="598.9" width="6" height="6" fill="#fff" stroke="#111" stroke-width="1.5"/>
<rect x="218.25" y="685.25" width="7.5" height="7.5" fill="#111"/>
<rect x="246.8" y="579.55" width="7.5" height="7.5" fill="#111"/>
<rect x="275.35" y="575.35" width="7.5" height="7.5" fill="#111"/>
<rect x="303.9" y="578.85" width="7.5" height="7.5" fill="#111"/>
<rect x="332.45" y="581.65" width="7.5" height="7.5" fill="#111"/>
<text x="391.8" y="533.4" font-size="13" font-style="italic" textLength="133.6" lengthAdjust="spacingAndGlyphs" fill="#111">H: Corticosterone AUC</text>
<line x1="407.3" y1="555.3" x2="407.3" y2="718.2" stroke="#111" stroke-width="2"/>
<line x1="403.3" y1="717.2" x2="407.3" y2="717.2" stroke="#111" stroke-width="1.6"/>
<text x="402.6" y="723.6" font-size="10.3" text-anchor="end" fill="#111">0</text>
<line x1="403.3" y1="676.93" x2="407.3" y2="676.93" stroke="#111" stroke-width="1.6"/>
<text x="402.6" y="683.33" font-size="10.3" text-anchor="end" fill="#111">40</text>
<line x1="403.3" y1="636.65" x2="407.3" y2="636.65" stroke="#111" stroke-width="1.6"/>
<text x="402.6" y="643.05" font-size="10.3" text-anchor="end" fill="#111">80</text>
<line x1="403.3" y1="596.38" x2="407.3" y2="596.38" stroke="#111" stroke-width="1.6"/>
<text x="402.6" y="602.78" font-size="10.3" text-anchor="end" fill="#111">120</text>
<line x1="403.3" y1="556.1" x2="407.3" y2="556.1" stroke="#111" stroke-width="1.6"/>
<text x="402.6" y="562.5" font-size="10.3" text-anchor="end" fill="#111">160</text>
<line x1="404.3" y1="697.06" x2="407.3" y2="697.06" stroke="#111" stroke-width="1.6"/>
<line x1="404.3" y1="656.79" x2="407.3" y2="656.79" stroke="#111" stroke-width="1.6"/>
<line x1="404.3" y1="616.51" x2="407.3" y2="616.51" stroke="#111" stroke-width="1.6"/>
<line x1="404.3" y1="576.24" x2="407.3" y2="576.24" stroke="#111" stroke-width="1.6"/>
<line x1="406.3" y1="717.2" x2="565" y2="717.2" stroke="#111" stroke-width="2"/>
<line x1="418.9" y1="652.5" x2="418.9" y2="660.6" stroke="#222" stroke-width="1.4"/>
<line x1="416.9" y1="652.5" x2="420.9" y2="652.5" stroke="#222" stroke-width="1.4"/>
<line x1="416.9" y1="660.6" x2="420.9" y2="660.6" stroke="#222" stroke-width="1.4"/>
<line x1="428.1" y1="664.8" x2="428.1" y2="673.3" stroke="#222" stroke-width="1.4"/>
<line x1="426.1" y1="664.8" x2="430.1" y2="664.8" stroke="#222" stroke-width="1.4"/>
<line x1="426.1" y1="673.3" x2="430.1" y2="673.3" stroke="#222" stroke-width="1.4"/>
<line x1="450.05" y1="674.1" x2="450.05" y2="677.1" stroke="#222" stroke-width="1.4"/>
<line x1="448.05" y1="674.1" x2="452.05" y2="674.1" stroke="#222" stroke-width="1.4"/>
<line x1="448.05" y1="677.1" x2="452.05" y2="677.1" stroke="#222" stroke-width="1.4"/>
<line x1="459.55" y1="629.3" x2="459.55" y2="639" stroke="#222" stroke-width="1.4"/>
<line x1="457.55" y1="629.3" x2="461.55" y2="629.3" stroke="#222" stroke-width="1.4"/>
<line x1="457.55" y1="639" x2="461.55" y2="639" stroke="#222" stroke-width="1.4"/>
<line x1="481.3" y1="630.7" x2="481.3" y2="632" stroke="#222" stroke-width="1.4"/>
<line x1="479.3" y1="630.7" x2="483.3" y2="630.7" stroke="#222" stroke-width="1.4"/>
<line x1="479.3" y1="632" x2="483.3" y2="632" stroke="#222" stroke-width="1.4"/>
<line x1="490.65" y1="602.7" x2="490.65" y2="619" stroke="#222" stroke-width="1.4"/>
<line x1="488.65" y1="602.7" x2="492.65" y2="602.7" stroke="#222" stroke-width="1.4"/>
<line x1="488.65" y1="619" x2="492.65" y2="619" stroke="#222" stroke-width="1.4"/>
<line x1="513.05" y1="600" x2="513.05" y2="602.7" stroke="#222" stroke-width="1.4"/>
<line x1="511.05" y1="600" x2="515.05" y2="600" stroke="#222" stroke-width="1.4"/>
<line x1="511.05" y1="602.7" x2="515.05" y2="602.7" stroke="#222" stroke-width="1.4"/>
<line x1="522.6" y1="592.2" x2="522.6" y2="605.8" stroke="#222" stroke-width="1.4"/>
<line x1="520.6" y1="592.2" x2="524.6" y2="592.2" stroke="#222" stroke-width="1.4"/>
<line x1="520.6" y1="605.8" x2="524.6" y2="605.8" stroke="#222" stroke-width="1.4"/>
<line x1="544.5" y1="584.4" x2="544.5" y2="593.3" stroke="#222" stroke-width="1.4"/>
<line x1="542.5" y1="584.4" x2="546.5" y2="584.4" stroke="#222" stroke-width="1.4"/>
<line x1="542.5" y1="593.3" x2="546.5" y2="593.3" stroke="#222" stroke-width="1.4"/>
<line x1="553.9" y1="581" x2="553.9" y2="582.8" stroke="#222" stroke-width="1.4"/>
<line x1="551.9" y1="581" x2="555.9" y2="581" stroke="#222" stroke-width="1.4"/>
<line x1="551.9" y1="582.8" x2="555.9" y2="582.8" stroke="#222" stroke-width="1.4"/>
<rect x="415.5" y="661.4" width="6.8" height="55.8" fill="#fff" stroke="#111" stroke-width="1.6"/>
<rect x="423.1" y="673.3" width="10" height="43.9" fill="#111"/>
<rect x="446.2" y="677.9" width="7.7" height="39.3" fill="#fff" stroke="#111" stroke-width="1.6"/>
<rect x="454.7" y="639" width="9.7" height="78.2" fill="#111"/>
<rect x="477.9" y="632.8" width="6.8" height="84.4" fill="#fff" stroke="#111" stroke-width="1.6"/>
<rect x="485.5" y="619" width="10.3" height="98.2" fill="#111"/>
<rect x="509.4" y="603.5" width="7.3" height="113.7" fill="#fff" stroke="#111" stroke-width="1.6"/>
<rect x="517.5" y="605.8" width="10.2" height="111.4" fill="#111"/>
<rect x="541" y="594.1" width="7" height="123.1" fill="#fff" stroke="#111" stroke-width="1.6"/>
<rect x="548.8" y="582.8" width="10.2" height="134.4" fill="#111"/>
<text x="424.8" y="728.4" font-size="10.3" text-anchor="middle" fill="#111">0</text>
<text x="459" y="728.4" font-size="10.3" text-anchor="middle" fill="#111">0.25</text>
<text x="487.8" y="728.4" font-size="10.3" text-anchor="middle" fill="#111">0.5</text>
<text x="520" y="728.4" font-size="10.3" text-anchor="middle" fill="#111">1.0</text>
<text x="551.8" y="728.4" font-size="10.3" text-anchor="middle" fill="#111">3.0</text>
<text x="494.6" y="742.9" font-size="10.5" text-anchor="middle" textLength="79" lengthAdjust="spacingAndGlyphs" fill="#111">µg CRF Injected</text>
<text x="421.2" y="648.5" font-size="9.5" text-anchor="middle" style="stroke-width:0.15px" fill="#111">AB</text>
<text x="431.4" y="660.5" font-size="9.5" text-anchor="middle" style="stroke-width:0.15px" fill="#111">A</text>
<text x="449.8" y="669.6" font-size="9.5" text-anchor="middle" style="stroke-width:0.15px" fill="#111">A</text>
<text x="462.1" y="625.4" font-size="9.5" text-anchor="middle" style="stroke-width:0.15px" fill="#111">BC</text>
<text x="480.9" y="625.4" font-size="9.5" text-anchor="middle" style="stroke-width:0.15px" fill="#111">C</text>
<text x="495.6" y="598.3" font-size="9.5" text-anchor="middle" style="stroke-width:0.15px" fill="#111">CD</text>
<text x="513.6" y="594.7" font-size="9.5" text-anchor="middle" style="stroke-width:0.15px" fill="#111">DE</text>
<text x="524.1" y="583.7" font-size="9.5" text-anchor="middle" style="stroke-width:0.15px" fill="#111">DE</text>
<text x="547" y="579.5" font-size="9.5" text-anchor="middle" style="stroke-width:0.15px" fill="#111">DE</text>
<text x="557.9" y="570.6" font-size="9.5" text-anchor="middle" style="stroke-width:0.15px" fill="#111">E</text>
<text x="378.8" y="630.5" font-size="10" text-anchor="middle" textLength="190" lengthAdjust="spacingAndGlyphs" transform="rotate(-90 378.8 630.5)" fill="#111">Area under the curve ((ng/ml)*min*10⁻³)</text>
</svg></body></html>
